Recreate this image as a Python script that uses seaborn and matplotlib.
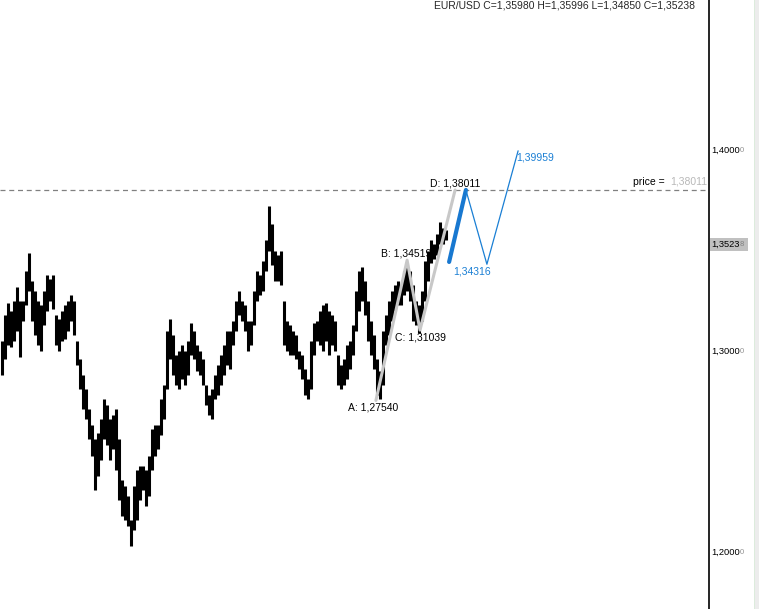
import numpy as np
import pandas as pd
import matplotlib.pyplot as plt
import matplotlib.transforms as mtransforms
from matplotlib.patches import Rectangle
import seaborn as sns

# bar highs / lows, one bar every 3 px
high = [1.305, 1.318, 1.324, 1.320, 1.325, 1.332, 1.325, 1.325, 1.340, 1.349,
        1.335, 1.330, 1.325, 1.323, 1.330, 1.338, 1.336, 1.338, 1.318, 1.316,
        1.320, 1.323, 1.325, 1.328, 1.325, 1.305, 1.296, 1.288, 1.281, 1.271,
        1.263, 1.256, 1.259, 1.266, 1.276, 1.273, 1.266, 1.268, 1.271, 1.256,
        1.236, 1.233, 1.228, 1.216, 1.233, 1.241, 1.243, 1.243, 1.241, 1.248,
        1.261, 1.263, 1.263, 1.276, 1.283, 1.310, 1.316, 1.308, 1.298, 1.300,
        1.303, 1.300, 1.305, 1.314, 1.310, 1.303, 1.300, 1.296, 1.283, 1.278,
        1.281, 1.288, 1.293, 1.298, 1.303, 1.310, 1.310, 1.315, 1.325, 1.330,
        1.325, 1.323, 1.315, 1.315, 1.330, 1.340, 1.338, 1.345, 1.355, 1.372,
        1.363, 1.350, 1.348, 1.350, 1.325, 1.315, 1.313, 1.310, 1.308, 1.300,
        1.298, 1.291, 1.286, 1.305, 1.314, 1.315, 1.320, 1.323, 1.324, 1.320,
        1.318, 1.315, 1.298, 1.293, 1.296, 1.303, 1.305, 1.313, 1.330, 1.340,
        1.342, 1.335, 1.325, 1.315, 1.308, 1.296, 1.290, 1.310, 1.318, 1.325,
        1.330, 1.333, 1.335, 1.333, 1.340, 1.343, 1.340, 1.333, 1.325, 1.323,
        1.330, 1.345, 1.350, 1.355, 1.353, 1.358, 1.364, 1.361, 1.360]
low = [1.288, 1.296, 1.303, 1.302, 1.305, 1.310, 1.297, 1.315, 1.323, 1.330,
       1.315, 1.308, 1.303, 1.300, 1.313, 1.320, 1.325, 1.321, 1.303, 1.300,
       1.305, 1.306, 1.310, 1.315, 1.308, 1.293, 1.281, 1.271, 1.266, 1.256,
       1.248, 1.231, 1.238, 1.246, 1.256, 1.253, 1.246, 1.251, 1.241, 1.226,
       1.218, 1.216, 1.213, 1.203, 1.211, 1.216, 1.226, 1.231, 1.223, 1.228,
       1.241, 1.248, 1.251, 1.258, 1.266, 1.281, 1.296, 1.288, 1.283, 1.281,
       1.286, 1.283, 1.288, 1.298, 1.296, 1.290, 1.288, 1.283, 1.273, 1.268,
       1.266, 1.276, 1.278, 1.283, 1.288, 1.293, 1.291, 1.303, 1.310, 1.318,
       1.315, 1.310, 1.300, 1.303, 1.313, 1.325, 1.328, 1.330, 1.340, 1.350,
       1.343, 1.335, 1.335, 1.333, 1.303, 1.300, 1.298, 1.298, 1.296, 1.291,
       1.286, 1.278, 1.276, 1.281, 1.298, 1.305, 1.303, 1.300, 1.305, 1.298,
       1.303, 1.300, 1.283, 1.281, 1.283, 1.286, 1.291, 1.298, 1.310, 1.320,
       1.325, 1.318, 1.305, 1.298, 1.291, 1.278, 1.276, 1.283, 1.303, 1.308,
       1.315, 1.320, 1.323, 1.323, 1.328, 1.330, 1.325, 1.315, 1.313, 1.309,
       1.315, 1.325, 1.335, 1.344, 1.346, 1.348, 1.353, 1.353, 1.355]

# ABCD pattern (bar index, price)
abcd_x = [124.8, 135.2, 139.5, 151.2]
abcd_price = [1.27540, 1.34519, 1.31039, 1.38011]
abcd_labels = ["A: 1,27540", "B: 1,34519", "C: 1,31039", "D: 1,38011"]

# projection
proj_x = [154.8, 161.8, 172.2]
proj_price = [1.38011, 1.34316, 1.39959]
proj_labels = ["1,34316", "1,39959"]
leg_x = [149.2, 154.8]
leg_price = [1.3443, 1.38011]

target_price = 1.38011
last_close = 1.35238
y_ticks = [1.2, 1.3, 1.4]
tick_labels = ["1,2000", "1,3000", "1,4000"]
title = "EUR/USD C=1,35980 H=1,35996 L=1,34850 C=1,35238"

sns.set_style("white")
plt.rcParams['font.family'] = ['Liberation Sans', 'DejaVu Sans']

W, H = 759, 609
fig = plt.figure(figsize=(W / 100, H / 100), dpi=100)
ax = fig.add_axes([0, 0, 709 / W, 1])
ax.set_xlim(-0.5, 235.83)
ax.set_ylim(1.171642, 1.474627)
for s in ["left", "top", "bottom"]:
    ax.spines[s].set_visible(False)
ax.spines["right"].set_color("black")
ax.spines["right"].set_linewidth(1.2)
ax.set_xticks([])
ax.set_yticks([])

bars = pd.DataFrame({"i": np.arange(len(high)), "high": high, "low": low})
ax.vlines(bars["i"], bars["low"], bars["high"], color="black", linewidth=2.2, zorder=3)

ax.axhline(target_price, color="#808080", lw=0.9, dashes=(4, 3), zorder=2)

sns.lineplot(x=abcd_x, y=abcd_price, sort=False, color="#c8c8c8", lw=2.2, ax=ax, zorder=4)
sns.lineplot(x=leg_x, y=leg_price, sort=False, color="#1878d0", lw=3.0, ax=ax, zorder=5)
sns.lineplot(x=[leg_x[1]] + proj_x[1:], y=[leg_price[1]] + proj_price[1:], sort=False,
             color="#1a7fd4", lw=0.9, ax=ax, zorder=5)

offsets = [(-2, -5), (-1, 5), (0, -5), (0, 4.5)]
for x, p, lab, off in zip(abcd_x, abcd_price, abcd_labels, offsets):
    ax.annotate(lab, (x, p), xytext=off, textcoords="offset points", ha="center",
                va="center", fontsize=7.5, color="black", zorder=1)
ax.annotate(proj_labels[0], (proj_x[1], proj_price[1]), xytext=(-11, -5),
            textcoords="offset points", ha="center", va="center", fontsize=7.5,
            color="#1a7fd4", zorder=1)
ax.annotate(proj_labels[1], (proj_x[2], proj_price[2]), xytext=(-1.5, -4.5),
            textcoords="offset points", ha="left", va="center", fontsize=7.5,
            color="#1a7fd4", zorder=1)

# price tag on the dashed line
tr = mtransforms.blended_transform_factory(fig.transFigure, ax.transData)
fig.text(633 / W, target_price + 0.0015, "price =", transform=tr, fontsize=7.5,
         va="bottom", color="black")
fig.text(670 / W, target_price + 0.0015, "1,38011", transform=tr, fontsize=7.5,
         va="bottom", color="#b8b8b8")

# right axis labels
for t, lab in zip(y_ticks, tick_labels):
    fig.text(711 / W, t, lab, transform=tr, fontsize=6.7, va="center", color="black")
    fig.text(740 / W, t, "0", transform=tr, fontsize=5.5, va="center", color="#909090")
fig.patches.append(Rectangle((710 / W, (H - 251) / H), 38 / W, 13 / H,
                             transform=fig.transFigure, facecolor="#c0c0c0",
                             edgecolor="none"))
fig.text(711 / W, last_close + 0.0008, "1,3523", transform=tr, fontsize=6.7, va="center",
         color="black")
fig.text(740 / W, last_close + 0.0008, "8", transform=tr, fontsize=5.5, va="center",
         color="#808080")

# right edge strip
fig.patches.append(Rectangle((754 / W, 0), 5 / W, 1, transform=fig.transFigure,
                             facecolor="#ececec", edgecolor="none"))
fig.patches.append(Rectangle((754 / W, 0), 1 / W, 1, transform=fig.transFigure,
                             facecolor="#dcebdc", edgecolor="none"))

fig.text(434 / W, 1 - 5 / H, title, fontsize=7.5, va="center", ha="left")

fig.savefig("out.png", dpi=100)
